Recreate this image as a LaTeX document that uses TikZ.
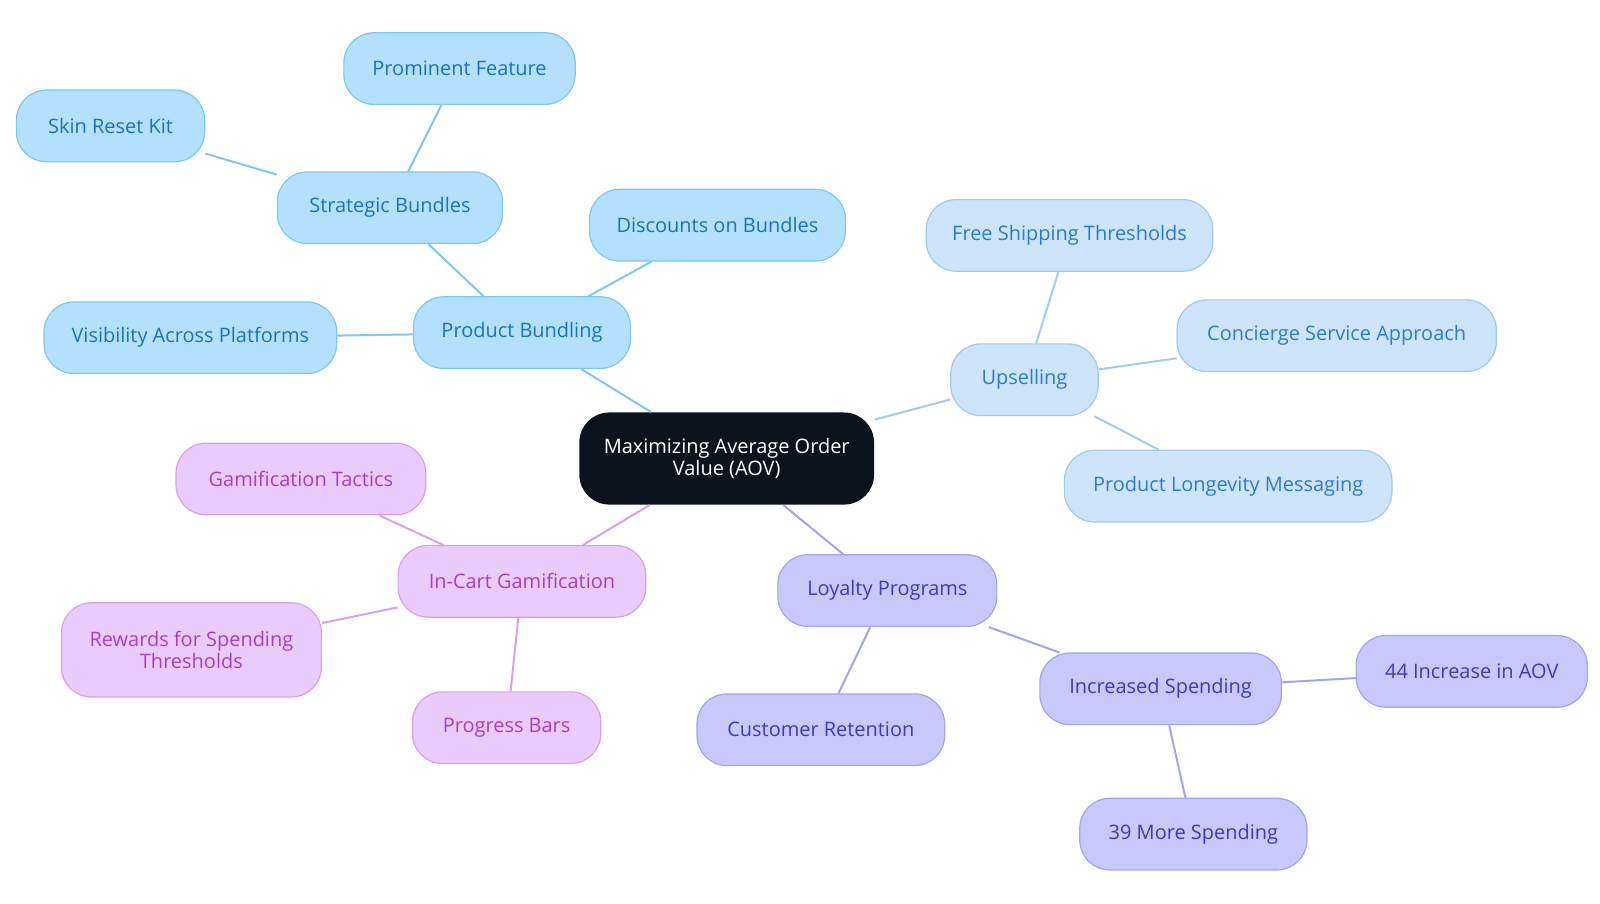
\documentclass[tikz,border=0pt]{standalone}
\usepackage{fontspec}
\setmainfont{Open Sans}
\definecolor{bF}{HTML}{B3E0FD}\definecolor{bD}{HTML}{80C6F2}\definecolor{bT}{HTML}{1B72C4}
\definecolor{uF}{HTML}{CDE4FB}\definecolor{uD}{HTML}{A2C9F2}\definecolor{uT}{HTML}{2A7BD6}
\definecolor{lF}{HTML}{C8C8FB}\definecolor{lD}{HTML}{A3A3F2}\definecolor{lT}{HTML}{3A3AC4}
\definecolor{pF}{HTML}{EBCBFB}\definecolor{pD}{HTML}{D6A0F2}\definecolor{pT}{HTML}{A43ED2}
\definecolor{cF}{HTML}{0D131C}
\begin{document}
\begin{tikzpicture}[x=1pt,y=-1pt,scale=1.0235,transform shape,
  base/.style={rounded corners=30pt,line width=1.2pt,align=center,inner sep=0pt,font=\fontsize{19.5}{21}\selectfont},
  B/.style={base,fill=bF,draw=bD,text=bT},
  U/.style={base,fill=uF,draw=uD,text=uT},
  L/.style={base,fill=lF,draw=lD,text=lT},
  P/.style={base,fill=pF,draw=pD,text=pT},
  eb/.style={draw=bD,line width=2pt},
  eu/.style={draw=uD,line width=2pt},
  el/.style={draw=lD,line width=2pt},
  ep/.style={draw=pD,line width=2pt}]
\useasboundingbox (0,0) rectangle (1563.3,882.3);
\node[base,fill=cF,draw=none,text=white,minimum width=288pt,minimum height=90pt] (c) at (710,448) {Maximizing Average Order\\Value (AOV)};
\node[B,minimum width=212pt,minimum height=70pt] (pb) at (510,325) {Product Bundling};
\node[B,minimum width=220pt,minimum height=70pt] (sb) at (381,203) {Strategic Bundles};
\node[B,minimum width=226pt,minimum height=70pt] (pf) at (449,67) {Prominent Feature};
\node[B,minimum width=184pt,minimum height=70pt] (sk) at (108,123) {Skin Reset Kit};
\node[B,minimum width=250pt,minimum height=70pt] (db) at (701,220) {Discounts on Bundles};
\node[B,minimum width=286pt,minimum height=70pt] (va) at (186,330) {Visibility Across Platforms};
\node[U,minimum width=144pt,minimum height=70pt] (up) at (1001,371) {Upselling};
\node[U,minimum width=280pt,minimum height=70pt] (fs) at (1045,230) {Free Shipping Thresholds};
\node[U,minimum width=312pt,minimum height=70pt] (cs) at (1306,328) {Concierge Service Approach};
\node[U,minimum width=320pt,minimum height=70pt] (pl) at (1200,475) {Product Longevity Messaging};
\node[L,minimum width=214pt,minimum height=70pt] (lp) at (867,577) {Loyalty Programs};
\node[L,minimum width=242pt,minimum height=70pt] (cr) at (802,713) {Customer Retention};
\node[L,minimum width=236pt,minimum height=70pt] (is) at (1134,673) {Increased Spending};
\node[L,minimum width=226pt,minimum height=70pt] (a44) at (1438,656) {44 Increase in AOV};
\node[L,minimum width=222pt,minimum height=70pt] (m39) at (1166,815) {39 More Spending};
\node[P,minimum width=242pt,minimum height=70pt] (ic) at (510,568) {In-Cart Gamification};
\node[P,minimum width=244pt,minimum height=70pt] (gt) at (294,468) {Gamification Tactics};
\node[P,minimum width=254pt,minimum height=92pt] (rw) at (187,635) {Rewards for Spending\\Thresholds};
\node[P,minimum width=184pt,minimum height=70pt] (pg) at (495,711) {Progress Bars};
\draw[eb] (c)--(pb); \draw[eb] (pb)--(sb); \draw[eb] (sb)--(pf); \draw[eb] (sb)--(sk);
\draw[eb] (pb)--(db); \draw[eb] (pb)--(va);
\draw[eu] (c)--(up); \draw[eu] (up)--(fs); \draw[eu] (up)--(cs); \draw[eu] (up)--(pl);
\draw[el] (c)--(lp); \draw[el] (lp)--(cr); \draw[el] (lp)--(is); \draw[el] (is)--(a44); \draw[el] (is)--(m39);
\draw[ep] (c)--(ic); \draw[ep] (ic)--(gt); \draw[ep] (ic)--(rw); \draw[ep] (ic)--(pg);
\end{tikzpicture}
\end{document}
